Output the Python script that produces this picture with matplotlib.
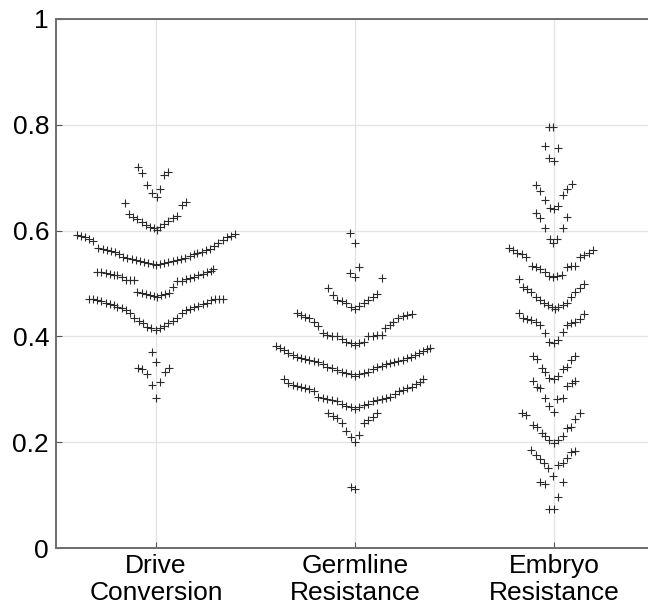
import matplotlib
matplotlib.use('Agg')
import matplotlib.pyplot as plt

plt.rcParams['font.family'] = ['Liberation Sans', 'DejaVu Sans']

categories = ['Drive\nConversion', 'Germline\nResistance', 'Embryo\nResistance']
y_ticks = [0, 0.2, 0.4, 0.6, 0.8, 1]
y_tick_labels = ['0', '0.2', '0.4', '0.6', '0.8', '1']

# values and horizontal spread (beeswarm offset) for each group
drive_y = [
    0.720, 0.709, 0.687, 0.672, 0.664, 0.678, 0.705, 0.711, 0.653, 0.655, 0.648,
    0.631, 0.626, 0.621, 0.617, 0.611, 0.607, 0.604, 0.602, 0.606, 0.612, 0.618, 0.623, 0.627,
    0.592, 0.590, 0.587, 0.585, 0.581, 0.567, 0.565, 0.563, 0.561, 0.559, 0.556, 0.551, 0.549,
    0.546, 0.544, 0.543, 0.541, 0.539, 0.537, 0.535,
    0.536, 0.538, 0.541, 0.543, 0.544, 0.546, 0.549, 0.552, 0.556, 0.558, 0.560, 0.563, 0.565,
    0.570, 0.576, 0.582, 0.587, 0.590, 0.593,
    0.522, 0.521, 0.519, 0.518, 0.517, 0.516, 0.513, 0.507, 0.507, 0.507,
    0.483, 0.482, 0.480, 0.478, 0.476, 0.475, 0.478, 0.480, 0.482,
    0.494, 0.504, 0.505, 0.508, 0.511, 0.513, 0.516, 0.518, 0.521, 0.524, 0.527,
    0.471, 0.470, 0.469, 0.466, 0.463, 0.461, 0.459, 0.456, 0.453, 0.450, 0.444, 0.434, 0.430,
    0.425, 0.418, 0.415, 0.413,
    0.415, 0.420, 0.425, 0.430, 0.434, 0.445, 0.449, 0.451, 0.455, 0.457, 0.461, 0.464, 0.468,
    0.470, 0.471, 0.471,
    0.371, 0.352, 0.340, 0.338, 0.329, 0.340, 0.333, 0.314, 0.308, 0.283,
]
drive_dx = [
    -0.089, -0.072, -0.044, -0.022, 0.003, 0.020, 0.040, 0.062, -0.156, 0.151, 0.129,
    -0.134, -0.114, -0.094, -0.072, -0.050, -0.030, -0.010, 0.003, 0.020, 0.040, 0.062, 0.087, 0.107,
    -0.399, -0.379, -0.358, -0.338, -0.318, -0.290, -0.268, -0.248, -0.228, -0.206, -0.184, -0.164,
    -0.144, -0.122, -0.100, -0.080, -0.060, -0.039, -0.017, 0.0,
    0.020, 0.040, 0.062, 0.084, 0.104, 0.124, 0.146, 0.168, 0.188, 0.208, 0.230, 0.251, 0.271,
    0.291, 0.313, 0.335, 0.355, 0.375, 0.397,
    -0.295, -0.275, -0.254, -0.234, -0.214, -0.194, -0.173, -0.150, -0.130, -0.110,
    -0.094, -0.072, -0.050, -0.030, -0.010, 0.003, 0.023, 0.045, 0.067,
    0.087, 0.107, 0.129, 0.151, 0.171, 0.191, 0.213, 0.235, 0.255, 0.275, 0.288,
    -0.335, -0.315, -0.295, -0.275, -0.254, -0.234, -0.214, -0.194, -0.173, -0.150, -0.130,
    -0.110, -0.088, -0.067, -0.047, -0.027, 0.0,
    0.020, 0.040, 0.062, 0.084, 0.104, 0.129, 0.151, 0.171, 0.191, 0.213, 0.235, 0.255, 0.275,
    0.297, 0.318, 0.335,
    -0.022, 0.0, -0.089, -0.072, -0.044, 0.067, 0.045, 0.020, -0.022, 0.0,
]

germline_y = [
    0.596, 0.577, 0.532, 0.519, 0.513, 0.510, 0.491,
    0.478, 0.469, 0.466, 0.463, 0.455, 0.451, 0.458, 0.464, 0.468, 0.475, 0.480,
    0.444, 0.441, 0.437, 0.434, 0.428, 0.420, 0.406, 0.403, 0.401, 0.400, 0.396, 0.390, 0.387, 0.384,
    0.387, 0.390, 0.400, 0.401, 0.403, 0.403, 0.415, 0.422, 0.428, 0.434, 0.439, 0.441, 0.442,
    0.382, 0.379, 0.374, 0.369, 0.365, 0.362, 0.360, 0.357, 0.355, 0.354, 0.352, 0.348, 0.343,
    0.340, 0.337, 0.333, 0.330, 0.329, 0.325,
    0.329, 0.331, 0.333, 0.338, 0.342, 0.344, 0.348, 0.350, 0.352, 0.354, 0.355, 0.359, 0.362,
    0.365, 0.369, 0.373, 0.376, 0.379,
    0.319, 0.311, 0.308, 0.306, 0.304, 0.302, 0.300, 0.296, 0.286, 0.283, 0.281, 0.280, 0.277,
    0.272, 0.268, 0.266, 0.263,
    0.267, 0.270, 0.273, 0.277, 0.279, 0.281, 0.283, 0.286, 0.292, 0.297, 0.299, 0.302, 0.305,
    0.310, 0.314, 0.319,
    0.256, 0.250, 0.245, 0.237, 0.222, 0.210, 0.201, 0.214, 0.237, 0.242, 0.248, 0.255,
    0.115, 0.111,
]
germline_dx = [
    -0.025, 0.0, 0.022, -0.025, 0.0, 0.134, -0.134,
    -0.112, -0.089, -0.067, -0.045, -0.022, 0.0, 0.022, 0.045, 0.067, 0.089, 0.109,
    -0.293, -0.273, -0.251, -0.230, -0.206, -0.184, -0.159, -0.139, -0.117, -0.092, -0.067, -0.045,
    -0.022, 0.0,
    0.022, 0.045, 0.067, 0.089, 0.112, 0.134, 0.151, 0.173, 0.193, 0.218, 0.240, 0.263, 0.285,
    -0.397, -0.377, -0.357, -0.335, -0.313, -0.293, -0.273, -0.251, -0.230, -0.206, -0.184,
    -0.162, -0.139, -0.117, -0.092, -0.067, -0.045, -0.022, 0.0,
    0.022, 0.045, 0.067, 0.089, 0.112, 0.134, 0.156, 0.176, 0.196, 0.218, 0.240, 0.260, 0.280,
    0.302, 0.323, 0.343, 0.363, 0.377,
    -0.357, -0.335, -0.313, -0.293, -0.273, -0.251, -0.230, -0.206, -0.184, -0.162, -0.139,
    -0.117, -0.092, -0.067, -0.045, -0.022, 0.0,
    0.022, 0.045, 0.067, 0.089, 0.112, 0.134, 0.156, 0.176, 0.201, 0.223, 0.243, 0.263, 0.285,
    0.307, 0.327, 0.343,
    -0.134, -0.112, -0.089, -0.067, -0.045, -0.022, 0.0, 0.022, 0.045, 0.067, 0.089, 0.109,
    -0.022, 0.0,
]

embryo_y = [
    0.796, 0.796, 0.760, 0.757, 0.737, 0.732,
    0.686, 0.674, 0.658, 0.642, 0.640, 0.647, 0.667, 0.678, 0.688,
    0.634, 0.623, 0.604, 0.626, 0.604, 0.584, 0.584, 0.576,
    0.568, 0.563, 0.558, 0.556, 0.551, 0.533, 0.531, 0.527, 0.521, 0.514, 0.513, 0.514, 0.516,
    0.531, 0.533, 0.533, 0.551, 0.554, 0.557, 0.563,
    0.508, 0.494, 0.489, 0.483, 0.475, 0.469, 0.463, 0.459, 0.455, 0.451, 0.455, 0.459, 0.464,
    0.475, 0.483, 0.491, 0.500,
    0.445, 0.434, 0.432, 0.431, 0.428, 0.422, 0.407, 0.390, 0.387, 0.393, 0.409, 0.422, 0.425,
    0.428, 0.432, 0.442,
    0.363, 0.357, 0.340, 0.333, 0.321, 0.319, 0.325, 0.338, 0.343, 0.355, 0.363,
    0.316, 0.304, 0.302, 0.283, 0.268, 0.258, 0.281, 0.283, 0.306, 0.311, 0.316,
    0.255, 0.251, 0.233, 0.228, 0.217, 0.212, 0.205, 0.199, 0.205, 0.212, 0.226, 0.229, 0.243, 0.255,
    0.185, 0.176, 0.168, 0.160, 0.151, 0.136, 0.157, 0.161, 0.170, 0.182, 0.184,
    0.124, 0.121, 0.124, 0.096, 0.073, 0.073,
]
embryo_dx = [
    -0.025, -0.005, -0.045, 0.022, -0.023, 0.0,
    -0.090, -0.070, -0.045, -0.020, 0.0, 0.022, 0.044, 0.064, 0.089,
    -0.090, -0.070, -0.045, 0.064, 0.044, -0.020, 0.013, -0.003,
    -0.225, -0.205, -0.184, -0.162, -0.141, -0.112, -0.090, -0.070, -0.045, -0.023, -0.003, 0.017,
    0.039, 0.064, 0.084, 0.106, 0.131, 0.151, 0.173, 0.194,
    -0.175, -0.154, -0.134, -0.114, -0.092, -0.070, -0.050, -0.030, -0.012, 0.005, 0.022, 0.044,
    0.064, 0.084, 0.106, 0.128, 0.151,
    -0.175, -0.154, -0.134, -0.114, -0.092, -0.070, -0.045, -0.023, 0.0, 0.022, 0.044, 0.064,
    0.084, 0.106, 0.128, 0.151,
    -0.107, -0.087, -0.062, -0.045, -0.023, 0.0, 0.022, 0.044, 0.064, 0.084, 0.106,
    -0.107, -0.087, -0.073, -0.045, -0.023, 0.0, 0.017, 0.044, 0.064, 0.089, 0.106,
    -0.162, -0.141, -0.107, -0.087, -0.062, -0.045, -0.023, 0.0, 0.022, 0.044, 0.064, 0.084,
    0.106, 0.131,
    -0.114, -0.092, -0.070, -0.050, -0.030, -0.003, 0.022, 0.044, 0.064, 0.084, 0.106,
    -0.070, -0.045, 0.044, 0.022, -0.023, 0.0,
]

groups = [(drive_dx, drive_y), (germline_dx, germline_y), (embryo_dx, embryo_y)]

fig = plt.figure(figsize=(6.48, 6.07), dpi=100)
ax = fig.add_axes([56 / 648, 59 / 607, 592 / 648, 529 / 607])

for pos, (dx, yv) in enumerate(groups, start=1):
    ax.plot([pos + d for d in dx], yv, '+', color='#2b2b2b', ms=5.5, mew=0.8)

ax.set_xlim(0.497, 3.472)
ax.set_ylim(0, 1)
ax.set_xticks([1, 2, 3])
ax.set_xticklabels(categories, fontsize=19)
ax.set_yticks(y_ticks)
ax.set_yticklabels(y_tick_labels, fontsize=19)

ax.grid(True, color='#e3e3e3', linewidth=0.9)
ax.set_axisbelow(True)
ax.tick_params(direction='in', length=4, width=0.8, color='#555555', pad=5)
ax.tick_params(axis='x', pad=4)
ax.spines['right'].set_visible(False)
for s in ['left', 'bottom', 'top']:
    ax.spines[s].set_color('#6e6e6e')
    ax.spines[s].set_linewidth(1.4)

plt.savefig('out.png', dpi=100)
